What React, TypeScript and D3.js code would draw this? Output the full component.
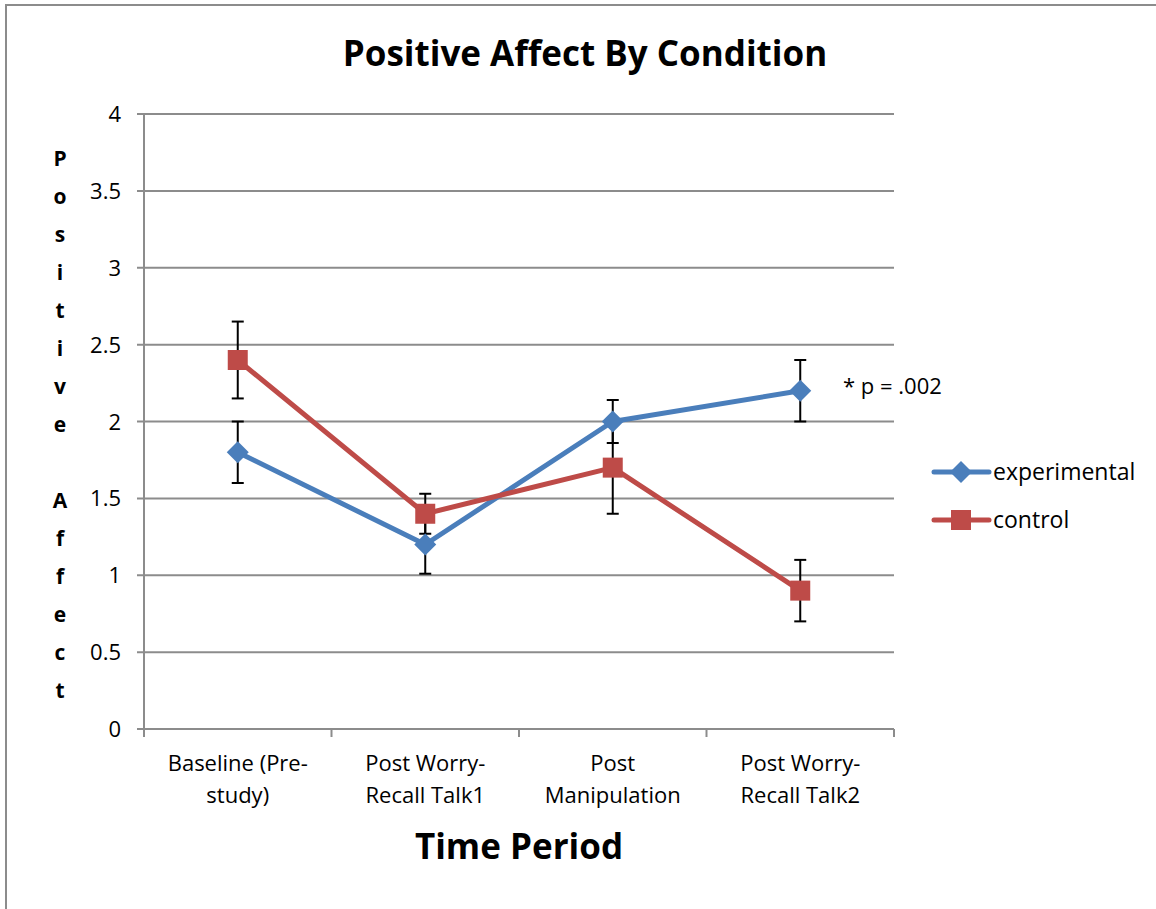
import React from "react";
import * as d3 from "d3";

const categories = [["Baseline (Pre-", "study)"], ["Post Worry-", "Recall Talk1"], ["Post", "Manipulation"], ["Post Worry-", "Recall Talk2"]];
const experimental = [1.8, 1.2, 2.0, 2.2];
const experimentalErr = [0.2, 0.19, 0.14, 0.2];
const control = [2.4, 1.4, 1.7, 0.9];
const controlErr = [0.25, 0.13, 0.3, 0.2];
const yTicks = [0, 0.5, 1, 1.5, 2, 2.5, 3, 3.5, 4];
const yTitle = ["P", "o", "s", "i", "t", "i", "v", "e", "", "A", "f", "f", "e", "c", "t"];

const BLUE = "#4A7EBB";
const RED = "#BE4B48";
const GRID = "#8c8c8c";
const FONT = "'Open Sans', 'Noto Sans', sans-serif";

export default function App() {
  const W = 1156, H = 909;
  const left = 144, right = 894, top = 114, bottom = 729;
  const x = d3.scaleBand<number>().domain(d3.range(categories.length)).range([left, right]);
  const y = d3.scaleLinear().domain([0, 4]).range([bottom, top]);
  const cx = (i: number) => (x(i) as number) + x.bandwidth() / 2;
  const line = d3.line<number>().x((_, i) => cx(i)).y((d) => y(d));
  const tickEdges = d3.range(categories.length + 1).map((i) => left + i * x.bandwidth());

  const errBars = (vals: number[], errs: number[], key: string) =>
    vals.map((v, i) => (
      <g key={key + i} stroke="#000" strokeWidth={2}>
        <line x1={cx(i)} x2={cx(i)} y1={y(v + errs[i])} y2={y(v - errs[i])} />
        <line x1={cx(i) - 6} x2={cx(i) + 6} y1={y(v + errs[i])} y2={y(v + errs[i])} />
        <line x1={cx(i) - 6} x2={cx(i) + 6} y1={y(v - errs[i])} y2={y(v - errs[i])} />
      </g>
    ));

  const diamond = (px: number, py: number, r: number, k: string) => (
    <path key={k} d={`M${px},${py - r}L${px + r},${py}L${px},${py + r}L${px - r},${py}Z`} fill={BLUE} />
  );
  const square = (px: number, py: number, s: number, k: string) => (
    <rect key={k} x={px - s / 2} y={py - s / 2} width={s} height={s} fill={RED} />
  );

  return (
    <svg width={W} height={H} style={{ position: "absolute", left: 0, top: 0 }} fontFamily={FONT}>
      <rect x={0} y={0} width={W} height={H} fill="#fff" />
      <path d={`M6,${H}V5H${W}`} fill="none" stroke={GRID} strokeWidth={2} />
      <text x={585} y={66} textAnchor="middle" fontSize={35} fontWeight="bold">Positive Affect By Condition</text>

      {yTicks.map((t) => (
        <g key={t}>
          <line x1={left - 7} x2={right} y1={y(t)} y2={y(t)} stroke={GRID} strokeWidth={2} />
          <text x={left - 23} y={y(t) + 8} textAnchor="end" fontSize={22}>{t}</text>
        </g>
      ))}
      <line x1={left} x2={left} y1={top} y2={bottom} stroke={GRID} strokeWidth={2} />
      {tickEdges.map((tx, i) => (
        <line key={i} x1={tx} x2={tx} y1={bottom} y2={bottom + 8} stroke={GRID} strokeWidth={2} />
      ))}
      {categories.map((c, i) => (
        <text key={i} x={cx(i)} textAnchor="middle" fontSize={22}>
          {c.map((ln, j) => (
            <tspan key={j} x={cx(i)} y={771 + j * 32}>{ln}</tspan>
          ))}
        </text>
      ))}
      <text x={519} y={859} textAnchor="middle" fontSize={35} fontWeight="bold">Time Period</text>

      {yTitle.map((ch, i) => (
        <text key={i} x={60} y={166 + i * 38} textAnchor="middle" fontSize={21} fontWeight="bold">{ch}</text>
      ))}

      <path d={line(experimental) || ""} fill="none" stroke={BLUE} strokeWidth={5} strokeLinejoin="round" />
      <path d={line(control) || ""} fill="none" stroke={RED} strokeWidth={5} strokeLinejoin="round" />
      {errBars(experimental, experimentalErr, "e")}
      {errBars(control, controlErr, "c")}
      {experimental.map((v, i) => diamond(cx(i), y(v), 11, "d" + i))}
      {control.map((v, i) => square(cx(i), y(v), 20, "s" + i))}

      <text x={843} y={394} fontSize={22}>* p = .002</text>

      <line x1={934} x2={989} y1={472} y2={472} stroke={BLUE} strokeWidth={5} strokeLinecap="round" />
      {diamond(961, 472, 11, "ld")}
      <text x={993} y={480} fontSize={23}>experimental</text>
      <line x1={934} x2={989} y1={520} y2={520} stroke={RED} strokeWidth={5} strokeLinecap="round" />
      {square(961, 520, 20, "ls")}
      <text x={993} y={528} fontSize={23}>control</text>
    </svg>
  );
}
